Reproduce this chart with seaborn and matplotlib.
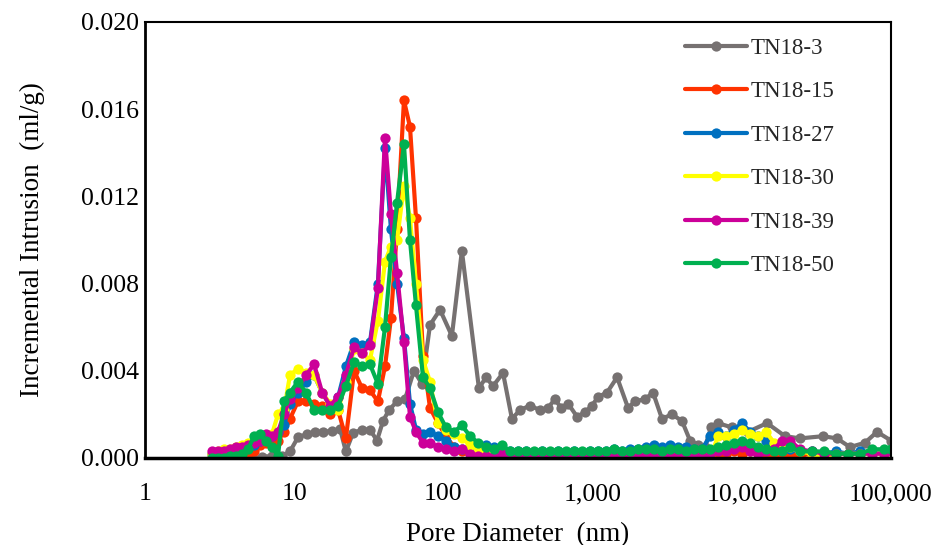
import numpy as np
import pandas as pd
import matplotlib
matplotlib.use("Agg")
import matplotlib.pyplot as plt
import seaborn as sns
from matplotlib.ticker import FixedLocator, FuncFormatter, NullLocator

# ---------------- data ----------------
series_names = ["TN18-3", "TN18-15", "TN18-27", "TN18-30", "TN18-39", "TN18-50"]
series_colors = ["#767171", "#FF3300", "#0070C0", "#FFFF00", "#CC0099", "#00B050"]

# pore diameters (nm) for TN18-3
d_tn18_3 = [2.81, 3.28, 3.83, 4.47, 5.21, 6.08, 7.10, 8.28, 9.37, 10.6, 12.2, 13.8, 15.6, 17.9,
            20.3, 22.2, 24.8, 28.5, 32.2, 35.9, 39.4, 43.2, 48.9, 55.3, 63.5, 71.9, 81.3, 94.9,
            114, 133, 173, 193, 215, 251, 288, 326, 380, 444, 502, 560, 614, 684, 786, 889,
            991, 1087, 1249, 1459, 1728, 1924, 2245, 2541, 2918, 3405, 3974, 4498, 5088, 5667,
            6219, 6930, 8597, 11010, 14760, 19490, 24550, 35020, 43430, 53090, 66940, 80550, 100000]
v_tn18_3 = [0.0, 0.0, 0.0, 0.0, 0.0, 0.00005, 0.0001, 0.0001, 0.0003, 0.00095, 0.0011, 0.0012, 0.0012, 0.00124,
            0.00133, 0.0003, 0.00115, 0.0013, 0.0013, 0.0008, 0.0017, 0.0022, 0.0026, 0.0027, 0.0040, 0.0034, 0.0061, 0.0068,
            0.0056, 0.0095, 0.0032, 0.0037, 0.0033, 0.0039, 0.0018, 0.0022, 0.0024, 0.0022, 0.0023, 0.0027, 0.0023, 0.0025, 0.0019, 0.0021,
            0.0024, 0.0028, 0.0030, 0.0037, 0.0023, 0.0026, 0.0027, 0.0030, 0.0018, 0.0020, 0.0017, 0.0008, 0.0006, 0.0005,
            0.0014, 0.0016, 0.0014, 0.0012, 0.0016, 0.0010, 0.0009, 0.0010, 0.0009, 0.0005, 0.0007, 0.0012, 0.0008]

# shared pore diameters (nm) for the other samples
d_common = [2.81, 3.09, 3.38, 3.71, 4.07, 4.47, 4.90, 5.38, 5.90, 6.47, 7.10, 7.79, 8.54, 9.37,
            10.6, 12.0, 13.6, 15.4, 17.4, 19.7, 22.2, 25.2, 28.5, 32.2, 36.4, 40.6, 44.5, 48.9,
            54.4, 59.7, 65.5, 73.0, 81.3, 92.0, 104, 118, 133, 151, 171, 193, 218, 247, 279, 316,
            358, 405, 458, 518, 586, 663, 750, 849, 961, 1087, 1230, 1391, 1574, 1781, 2015, 2280,
            2580, 2918, 3302, 3736, 4227, 4783, 5412, 6123, 6930, 7841, 8872, 10038, 11357, 12850,
            14540, 16450, 18610, 21060, 24550, 29540, 35570, 42790, 51500, 61960, 74560, 89740, 100000]

v_tn18_15 = [0.0, 0.0, 0.0001, 0.0001, 0.0001, 0.0001, 0.0002, 0.0003, 0.0006, 0.0007, 0.0007, 0.0008, 0.0012, 0.0018,
             0.0026, 0.0026, 0.0025, 0.0024, 0.0020, 0.0022, 0.0009, 0.0040, 0.0032, 0.0031, 0.0026, 0.0042, 0.0064, 0.0105,
             0.0164, 0.0152, 0.0110, 0.0047, 0.0023, 0.0016, 0.0010, 0.0005, 0.0003, 0.0002, 0.0001, 0.0, 0.0001, 0.0001, 0.0, 0.0001,
             0.0, 0.0001, 0.0, 0.0001, 0.0, 0.0001, 0.0, 0.0001, 0.0, 0.0001, 0.0001, 0.0, 0.0001, 0.0001, 0.0, 0.0001,
             0.0001, 0.0, 0.0001, 0.0, 0.0001, 0.0, 0.0001, 0.0001, 0.0002, 0.0002, 0.0003, 0.0002, 0.0003, 0.0002,
             0.0001, 0.0002, 0.0001, 0.0002, 0.0001, 0.0002, 0.0001, 0.0002, 0.0002, 0.0002, 0.0002, 0.0002, 0.0003]

v_tn18_27 = [0.0002, 0.0002, 0.0003, 0.0003, 0.0004, 0.0005, 0.0005, 0.0006, 0.0008, 0.0009, 0.0010, 0.0012, 0.0015, 0.0025,
             0.0030, 0.0035, 0.0038, 0.0030, 0.0024, 0.0028, 0.0042, 0.0053, 0.0052, 0.0053, 0.0080, 0.0142, 0.0105, 0.0080,
             0.0055, 0.0025, 0.0013, 0.0011, 0.0012, 0.0010, 0.0008, 0.0005, 0.0004, 0.0004, 0.0005, 0.0006, 0.0005, 0.0003, 0.0003, 0.0003,
             0.0003, 0.0002, 0.0003, 0.0002, 0.0003, 0.0002, 0.0003, 0.0002, 0.0003, 0.0003, 0.0003, 0.0004, 0.0003, 0.0004, 0.0004, 0.0005,
             0.0006, 0.0005, 0.0006, 0.0005, 0.0005, 0.0004, 0.0004, 0.0010, 0.0012, 0.0010, 0.0013, 0.0016, 0.0012, 0.0010,
             0.0008, 0.0005, 0.0004, 0.0004, 0.0003, 0.0003, 0.0002, 0.0003, 0.0002, 0.0003, 0.0002, 0.0002, 0.0003]

v_tn18_30 = [0.0002, 0.0003, 0.0004, 0.0004, 0.0005, 0.0006, 0.0007, 0.0008, 0.0009, 0.0009, 0.0011, 0.0020, 0.0022, 0.0038,
             0.0041, 0.0039, 0.0038, 0.0030, 0.0025, 0.0022, 0.0035, 0.0050, 0.0048, 0.0045, 0.0063, 0.0090, 0.0097, 0.0100,
             0.0125, 0.0110, 0.0080, 0.0045, 0.0035, 0.0016, 0.0013, 0.0011, 0.0009, 0.0006, 0.0004, 0.0003, 0.0002, 0.0002, 0.0002, 0.0002,
             0.0002, 0.0002, 0.0002, 0.0002, 0.0002, 0.0002, 0.0002, 0.0002, 0.0002, 0.0002, 0.0002, 0.0002, 0.0002, 0.0002, 0.0002, 0.0002,
             0.0002, 0.0002, 0.0002, 0.0002, 0.0002, 0.0002, 0.0001, 0.0, 0.0010, 0.0010, 0.0011, 0.0013, 0.0011, 0.0010,
             0.0012, 0.0007, 0.0007, 0.0005, 0.0003, 0.0002, 0.0, 0.0002, 0.0002, 0.0002, 0.0002, 0.0002, 0.0003]

v_tn18_39 = [0.0003, 0.0003, 0.0003, 0.0004, 0.0005, 0.0005, 0.0006, 0.0007, 0.0008, 0.0011, 0.0010, 0.0012, 0.0020, 0.0027,
             0.0032, 0.0038, 0.0043, 0.0030, 0.0024, 0.0028, 0.0038, 0.0051, 0.0048, 0.0052, 0.0078, 0.0147, 0.0112, 0.0085,
             0.0053, 0.0019, 0.0012, 0.0007, 0.0007, 0.0005, 0.0004, 0.0003, 0.0004, 0.0002, 0.0001, 0.0001, 0.0001, 0.0002, 0.0001, 0.0001,
             0.0001, 0.0001, 0.0001, 0.0001, 0.0001, 0.0001, 0.0001, 0.0001, 0.0001, 0.0001, 0.0001, 0.0002, 0.0001, 0.0002, 0.0001, 0.0002,
             0.0002, 0.0001, 0.0002, 0.0002, 0.0001, 0.0002, 0.0002, 0.0002, 0.0003, 0.0003, 0.0004, 0.0005, 0.0003, 0.0002,
             0.0003, 0.0004, 0.0008, 0.0008, 0.0004, 0.0003, 0.0002, 0.0002, 0.0002, 0.0002, 0.0002, 0.0002, 0.0003]

v_tn18_50 = [0.0, 0.0, 0.0, 0.0001, 0.0001, 0.0002, 0.0004, 0.0010, 0.0011, 0.0008, 0.0005, 0.0001, 0.0026, 0.0030,
             0.0035, 0.0030, 0.0022, 0.0022, 0.0022, 0.0024, 0.0033, 0.0044, 0.0042, 0.0043, 0.0034, 0.0060, 0.0092, 0.0117,
             0.0144, 0.0100, 0.0070, 0.0037, 0.0032, 0.0021, 0.0014, 0.0012, 0.0015, 0.0010, 0.0007, 0.0005, 0.0004, 0.0006, 0.0003, 0.0003,
             0.0003, 0.0003, 0.0003, 0.0003, 0.0003, 0.0003, 0.0003, 0.0003, 0.0003, 0.0003, 0.0003, 0.0004, 0.0003, 0.0003, 0.0004, 0.0004,
             0.0004, 0.0003, 0.0004, 0.0004, 0.0003, 0.0004, 0.0004, 0.0004, 0.0005, 0.0006, 0.0007, 0.0008, 0.0007, 0.0005,
             0.0004, 0.0003, 0.0003, 0.0005, 0.0003, 0.0003, 0.0003, 0.0002, 0.0002, 0.0002, 0.0004, 0.0004, 0.0004]

x_ticks = [1, 10, 100, 1000, 10000, 100000]
y_ticks = [0.000, 0.004, 0.008, 0.012, 0.016, 0.020]

# ---------------- build long table ----------------
frames = [pd.DataFrame({"d": d_tn18_3, "v": v_tn18_3, "sample": "TN18-3"})]
for name, vals in zip(series_names[1:], [v_tn18_15, v_tn18_27, v_tn18_30, v_tn18_39, v_tn18_50]):
    frames.append(pd.DataFrame({"d": d_common, "v": vals, "sample": name}))
df = pd.concat(frames, ignore_index=True)

sns.set_theme(style="white")
plt.rcParams["font.family"] = ["Liberation Serif", "DejaVu Serif"]

fig = plt.figure(figsize=(9.41, 5.45), dpi=100)
ax = fig.add_axes([145 / 941, 1 - 458 / 545, (891 - 145) / 941, (458 - 22) / 545])

for name, col in zip(series_names, series_colors):
    sub = df[df["sample"] == name]
    sns.lineplot(data=sub, x="d", y="v", ax=ax, color=col, marker="o", markersize=7.4,
                 markeredgewidth=0, linewidth=3.0, label=name, sort=False, estimator=None)

ax.set_xscale("log")
ax.set_xlim(1, 100000)
ax.set_ylim(0, 0.020)
ax.xaxis.set_major_locator(FixedLocator(x_ticks))
ax.xaxis.set_minor_locator(NullLocator())
ax.xaxis.set_major_formatter(FuncFormatter(lambda v, p: f"{int(round(v)):,}"))
ax.yaxis.set_major_locator(FixedLocator(y_ticks))
ax.yaxis.set_major_formatter(FuncFormatter(lambda v, p: f"{v:.3f}"))

ax.tick_params(axis="both", which="major", direction="in", length=5, width=1.5,
               labelsize=18.5, colors="black")
ax.tick_params(axis="x", pad=18)
ax.tick_params(axis="y", pad=4)
for s in ax.spines.values():
    s.set_color("black")
    s.set_linewidth(1.5)
ax.spines["left"].set_linewidth(2)
ax.spines["bottom"].set_linewidth(2.5)

ax.set_xlabel("Pore Diameter  (nm)", fontsize=19.5, color="black", labelpad=12)
ax.set_ylabel("Incremental Intrusion  (ml/g)", fontsize=19.5, color="black", labelpad=26)
ax.grid(False)

leg = ax.legend(loc="upper left", bbox_to_anchor=(0.712, 0.985), frameon=False, fontsize=16.5,
                handlelength=2.7, labelspacing=0.98, handletextpad=0.15, borderaxespad=0)

fig.savefig("out.png", dpi=100)
